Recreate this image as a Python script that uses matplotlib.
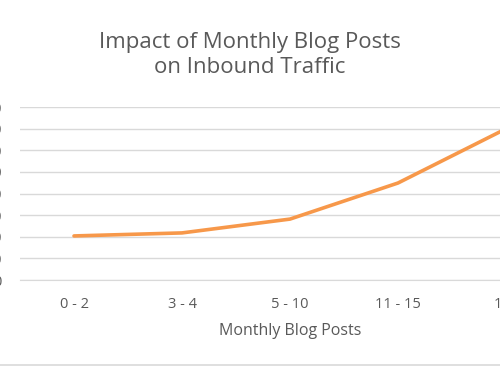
import matplotlib
matplotlib.use('Agg')
import matplotlib.pyplot as plt
from matplotlib.lines import Line2D

plt.rcParams['font.family'] = ['Open Sans', 'DejaVu Sans']

categories = ['0 - 2', '3 - 4', '5 - 10', '11 - 15', '16+']
traffic = [2040, 2180, 2820, 4490, 7000]
y_ticks = [0, 1000, 2000, 3000, 4000, 5000, 6000, 7000, 8000]

grey = '#595959'
grid_c = '#D9D9D9'
orange = '#F7984A'

fig = plt.figure(figsize=(5.0, 3.67), dpi=100)
# plot area runs past the right edge, as in the cropped reference
ax = fig.add_axes([0.04, 0.237, 1.08, 0.471])

x = range(len(categories))
ax.plot(x, traffic, color=orange, linewidth=2.6, solid_capstyle='round')

ax.set_xlim(-0.5, len(categories) - 0.5)
ax.set_ylim(0, 8000)
ax.set_yticks(y_ticks)
ax.set_yticklabels([str(v) for v in y_ticks])
ax.set_xticks(list(x))
ax.set_xticklabels(categories)

ax.grid(axis='y', color=grid_c, linewidth=1.0)
ax.set_axisbelow(True)
for s in ['top', 'right', 'left']:
    ax.spines[s].set_visible(False)
ax.spines['bottom'].set_color(grid_c)
ax.tick_params(axis='both', length=0, labelsize=10.5, colors=grey)
ax.tick_params(axis='y', pad=13)
ax.tick_params(axis='x', pad=12)

ax.set_xlabel('Monthly Blog Posts', fontsize=11.5, color=grey, labelpad=8)

fig.text(0.5, 0.85, 'Impact of Monthly Blog Posts\non Inbound Traffic',
         ha='center', va='center', fontsize=16, color=grey, linespacing=1.2)

# chart border along the bottom
fig.add_artist(Line2D([0, 1], [0.005, 0.005], transform=fig.transFigure,
                      color=grid_c, linewidth=1.2))

fig.savefig('out.png', dpi=100)
